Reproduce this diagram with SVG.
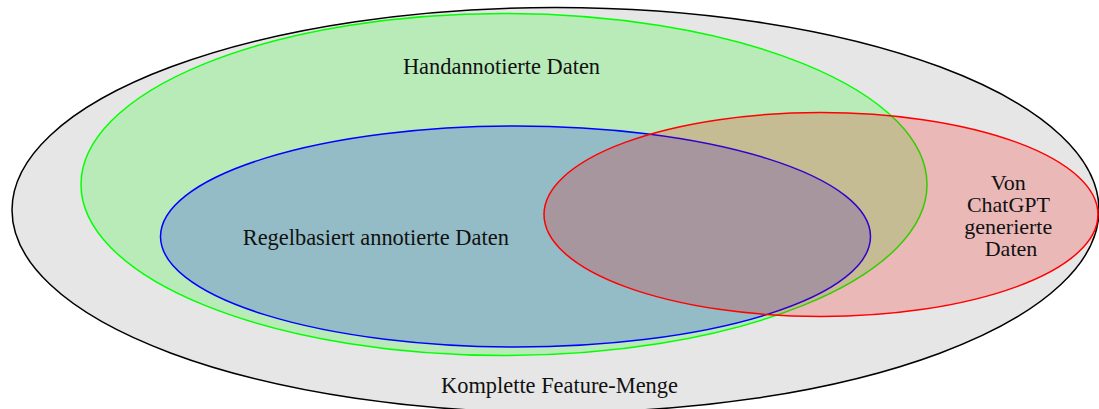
<svg xmlns="http://www.w3.org/2000/svg" width="1099" height="409" viewBox="0 0 1099 409">
  <style>
    .set { stroke-width: 1.5; }
    .label { font-family: "Liberation Serif", "Times New Roman", serif; font-size: 22.4px; fill: #111; text-anchor: middle; }
    .stack { font-size: 22px; }
  </style>
  <rect width="1099" height="409" fill="#ffffff"/>

  <!-- Complete feature set -->
  <g id="feature-set">
    <ellipse class="set" cx="555.5" cy="210" rx="543.5" ry="202.5" fill="#e6e6e6" stroke="#000000"/>
    <text class="label" x="559.5" y="393">Komplette Feature-Menge</text>
  </g>

  <!-- Hand-annotated data -->
  <g id="hand-annotated">
    <ellipse class="set" cx="504" cy="184.5" rx="423" ry="171" fill="#00ff00" fill-opacity="0.2" stroke="#00ff00"/>
    <text class="label" x="501.5" y="74">Handannotierte Daten</text>
  </g>

  <!-- Rule-based annotated data -->
  <g id="rule-based">
    <ellipse class="set" cx="515.5" cy="236.5" rx="355" ry="110.5" fill="#0000ff" fill-opacity="0.2" stroke="#0000ff"/>
    <text class="label" x="375.8" y="244.5">Regelbasiert annotierte Daten</text>
  </g>

  <!-- ChatGPT-generated data -->
  <g id="chatgpt-generated">
    <ellipse class="set" cx="821" cy="214.5" rx="277" ry="102" fill="#ff0000" fill-opacity="0.2" stroke="#ff0000"/>
    <text class="label stack" x="1011">
      <tspan x="1011" y="189.5">Von</tspan>
      <tspan x="1011" y="211.5">ChatGPT</tspan>
      <tspan x="1011" y="233.5">generierte</tspan>
      <tspan x="1011" y="255.5">Daten</tspan>
    </text>
  </g>

  <g id="connectors"></g>
</svg>
